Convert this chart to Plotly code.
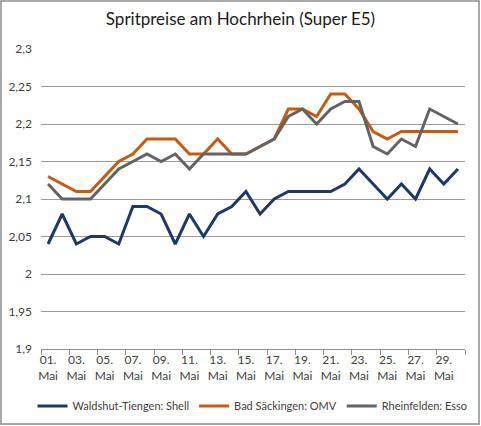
import plotly.graph_objects as go

days = list(range(1, 31))
month = "Mai"
shell = [2.04, 2.08, 2.04, 2.05, 2.05, 2.04, 2.09, 2.09, 2.08, 2.04,
         2.08, 2.05, 2.08, 2.09, 2.11, 2.08, 2.10, 2.11, 2.11, 2.11,
         2.11, 2.12, 2.14, 2.12, 2.10, 2.12, 2.10, 2.14, 2.12, 2.14]
omv = [2.13, 2.12, 2.11, 2.11, 2.13, 2.15, 2.16, 2.18, 2.18, 2.18,
       2.16, 2.16, 2.18, 2.16, 2.16, 2.17, 2.18, 2.22, 2.22, 2.21,
       2.24, 2.24, 2.22, 2.19, 2.18, 2.19, 2.19, 2.19, 2.19, 2.19]
esso = [2.12, 2.10, 2.10, 2.10, 2.12, 2.14, 2.15, 2.16, 2.15, 2.16,
        2.14, 2.16, 2.16, 2.16, 2.16, 2.17, 2.18, 2.21, 2.22, 2.20,
        2.22, 2.23, 2.23, 2.17, 2.16, 2.18, 2.17, 2.22, 2.21, 2.20]
series_names = ["Waldshut-Tiengen: Shell", "Bad Säckingen: OMV", "Rheinfelden: Esso"]
colors = ["#203864", "#C55A11", "#636363"]
y_ticks = [1.9, 1.95, 2.0, 2.05, 2.1, 2.15, 2.2, 2.25, 2.3]

label_days = [d for d in days if d % 2 == 1]
tick_text = [f"{d:02d}.<br>{month}" for d in label_days]
y_text = [("%g" % v).replace(".", ",") for v in y_ticks]

fig = go.Figure()
for name, vals, col in zip(series_names, [shell, omv, esso], colors):
    fig.add_trace(go.Scatter(x=days, y=vals, mode="lines", name=name,
                             line=dict(color=col, width=3)))

font_family = "Lato, Open Sans, sans-serif"
fig.update_layout(
    width=481, height=426,
    margin=dict(l=41, r=16, t=49, b=77, autoexpand=False),
    paper_bgcolor="white", plot_bgcolor="white",
    title=dict(text="Spritpreise am Hochrhein (Super E5)", x=0.5, xanchor="center",
               y=0.955, yanchor="middle",
               font=dict(family=font_family, size=17, color="#1a1a1a")),
    font=dict(family=font_family, size=12, color="#404040"),
    showlegend=True,
    legend=dict(orientation="h", x=-0.02, xanchor="left", y=-0.19, yanchor="middle",
                font=dict(size=11, color="#404040"), itemwidth=30,
                tracegroupgap=0),
    xaxis=dict(range=[0.5, 30.5], tickmode="array", tickvals=label_days, ticktext=tick_text,
               ticks="", showgrid=False, zeroline=False,
               showline=True, linecolor="#8c8c8c", linewidth=1,
               tickfont=dict(size=12, color="#404040"),
               minor=dict(tickmode="linear", tick0=0.5, dtick=2, ticks="outside",
                          ticklen=5, tickcolor="#8c8c8c", showgrid=False)),
    yaxis=dict(range=[1.9, 2.3], tickmode="array", tickvals=y_ticks, ticktext=y_text,
               showgrid=True, gridcolor="#9a9a9a", gridwidth=1, zeroline=False,
               showline=False, ticks="", ticklabelstandoff=8,
               tickfont=dict(size=12, color="#404040")),
    shapes=[dict(type="rect", xref="paper", yref="paper",
                 x0=-40/424, x1=1 + 14/424, y0=-75/300, y1=1 + 48/300,
                 line=dict(color="#8c8c8c", width=1.5), fillcolor="rgba(0,0,0,0)",
                 layer="below")],
)
fig.write_html("out.html", config={"displayModeBar": False},
               post_script="document.body.style.margin='0px';")
